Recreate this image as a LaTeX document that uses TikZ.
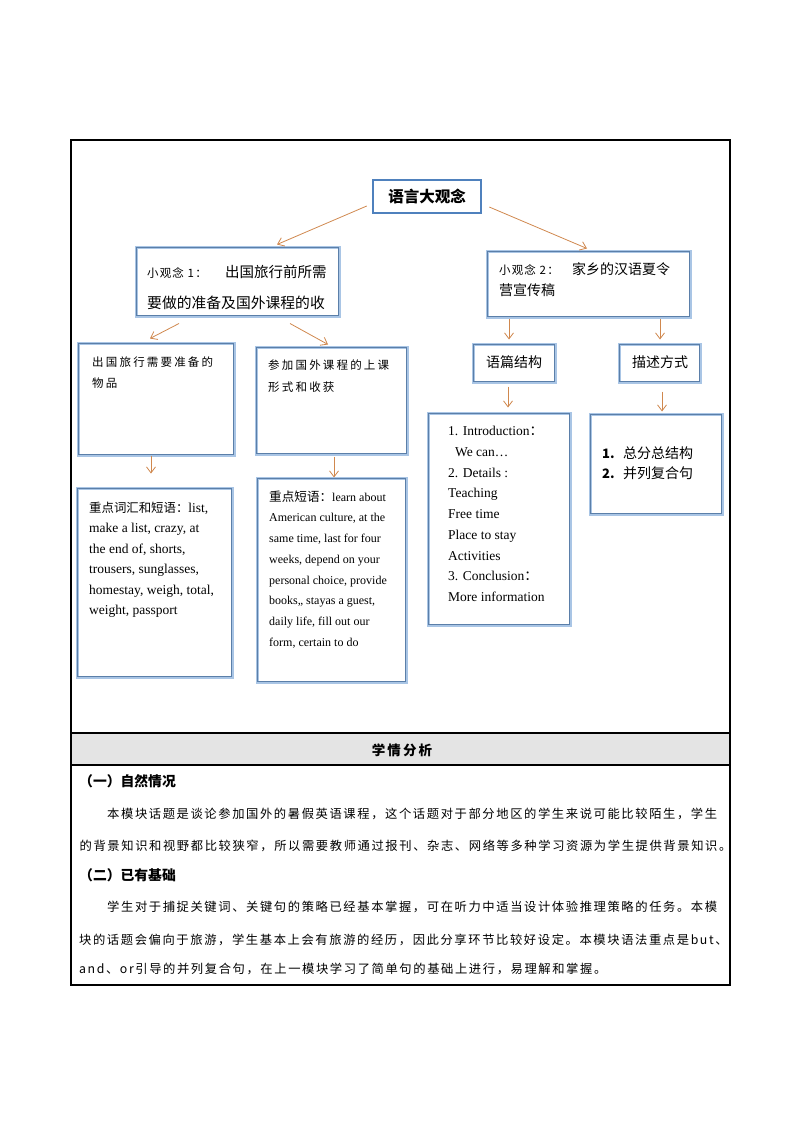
\documentclass[tikz,border=0pt]{standalone}
\usepackage{fontspec}
\setmainfont{Liberation Serif}
\newfontfamily\cjk{Noto Sans CJK SC}
\newfontfamily\cjksp[LetterSpace=13]{Noto Sans CJK SC}
\newfontfamily\cjklm[LetterSpace=19]{Noto Sans CJK SC}
\newfontfamily\cjkhd[LetterSpace=16]{Noto Sans CJK SC}
\newfontfamily\cjksm[LetterSpace=10]{Noto Sans CJK SC}
\usetikzlibrary{arrows.meta,fit}
\definecolor{lb}{HTML}{A9C5E5}
\definecolor{db}{HTML}{5B7FA9}
\definecolor{tb}{HTML}{4F81BD}
\definecolor{ar}{HTML}{D0884E}
\definecolor{hd}{HTML}{E4E4E4}
\newcommand\fs[1]{\fontsize{#1}{#1}\selectfont}
\newcommand\wbox[5]{%
  \node[wbx, fit={(#2,#3) (#4,#5)}] (#1) {};
  \draw[db, line width=0.7pt] ([shift={(2.2,2.2)}]#1.north west) rectangle ([shift={(-2.2,-2.2)}]#1.south east);}
\begin{document}
\begin{tikzpicture}[x=1pt,y=-1pt,
  txt/.style={anchor=base west, inner sep=0pt},
  wbx/.style={draw=lb, line width=3pt, inner sep=0pt},
  arr/.style={draw=ar, line width=0.8pt, -{Straight Barb[length=6pt,width=9pt]}}]
\useasboundingbox (0,0) rectangle (794,1123);

% outer frame and table
\node[draw, line width=1.2pt, inner sep=0pt, fit={(71,140) (730,985)}] (frame) {};
\fill[hd] (72,734) rectangle (729,764);
\draw[line width=1.2pt] (frame.west |- 0,733) coordinate (h1a) -- (frame.east |- 0,733) coordinate (h1b);
\draw[line width=1.2pt] (frame.west |- 0,765) coordinate (h2a) -- (frame.east |- 0,765) coordinate (h2b);

% top box
\node[draw=tb, line width=2.5pt, inner sep=0pt, minimum width=108pt, minimum height=33pt] (top) at (427,196.5) {};
\node[inner sep=0pt, font=\cjk\bfseries\fs{15.5}] (toptxt) at (427,196.5) {语言大观念};

% level-1 boxes
\wbox{b1}{136}{247}{339}{316}
\wbox{b2}{487}{251}{690}{317}
\node[txt, font=\cjksm\fs{11.5}] (b1a) at (147,277) {小观念 1：};
\node[txt, font=\cjk\fs{14.5}] (b1b) at (225,277) {出国旅行前所需};
\node[txt, font=\cjk\fs{14.8}] (b1c) at (147,308) {要做的准备及国外课程的收};
\node[txt, font=\cjksm\fs{11.5}] (b2a) at (499,274) {小观念 2：};
\node[txt, font=\cjk\fs{14}] (b2b) at (572,274) {家乡的汉语夏令};
\node[txt, font=\cjk\fs{14}] (b2c) at (499,295) {营宣传稿};

% level-2 boxes
\wbox{lm}{78}{343}{234}{455}
\wbox{mm}{256}{347}{407}{454}
\wbox{yp}{473}{344}{555}{382}
\wbox{ms}{619}{344}{700}{382}
\node[txt, font=\cjklm\fs{11.5}] (lm1) at (92,366) {出国旅行需要准备的};
\node[txt, font=\cjklm\fs{11.5}] (lm2) at (92,387) {物品};
\node[txt, font=\cjklm\fs{11.5}] (mm1) at (268,369) {参加国外课程的上课};
\node[txt, font=\cjklm\fs{11.5}] (mm2) at (268,391) {形式和收获};
\node[inner sep=0pt, font=\cjk\fs{14}] (yptxt) at (514,362) {语篇结构};
\node[inner sep=0pt, font=\cjk\fs{14}] (mstxt) at (660,362) {描述方式};

% level-3 boxes
\wbox{bl}{77}{488}{232}{677}
\wbox{bm}{257}{478}{406}{682}
\wbox{in}{428}{413}{570}{625}
\wbox{zf}{590}{414}{722}{514}

\foreach \t [count=\i] in {{{\cjk\fs{12.4}重点词汇和短语：}list,},
  {make a list, crazy, at}, {the end of, shorts,}, {trousers, sunglasses,},
  {homestay, weigh, total,}, {weight, passport}}
  \node[txt, font=\fs{13.5}] (bl\i) at (89,{512.5+(\i-1)*20.4}) {\t};

\foreach \t [count=\i] in {{{\cjk\fs{12.6}重点短语：}learn about},
  {American culture, at the}, {same time, last for four}, {weeks, depend on your},
  {personal choice, provide}, {books,, stayas a guest,}, {daily life, fill out our},
  {form, certain to do}}
  \node[txt, font=\fs{12}] (bm\i) at (269,{501+(\i-1)*20.75}) {\t};

\foreach \t/\xx [count=\i] in {{1. Introduction{\cjk：}}/448, {We can\ldots}/455,
  {2. Details :}/448, Teaching/448, Free time/448, Place to stay/448,
  Activities/448, {3. Conclusion{\cjk：}}/448, More information/448}
  \node[txt, font=\fs{13.5}] (in\i) at (\xx,{435.5+(\i-1)*20.75}) {\t};

\node[txt, font=\cjk\bfseries\fs{13}] (zf1n) at (602,458.5) {1.};
\node[txt, font=\cjk\fs{14}] (zf1) at (623,458.5) {总分总结构};
\node[txt, font=\cjk\bfseries\fs{13}] (zf2n) at (602,478.5) {2.};
\node[txt, font=\cjk\fs{14}] (zf2) at (623,478.5) {并列复合句};

% connectors
\draw[arr] ([shift={(-5,9.5)}]top.west) -- ([shift={(39.5,-1)}]b1.north);
\draw[arr] ([shift={(7,10.5)}]top.east) -- ([shift={(-1.5,-1)}]b2.north);
\draw[arr] ([shift={(-58.5,6)}]b1.south) -- ([shift={(-6,-3)}]lm.north);
\draw[arr] ([shift={(52.5,6)}]b1.south) -- ([shift={(-3.5,-1)}]mm.north);
\draw[arr] ([shift={(-79.5,0)}]b2.south) -- ([shift={(-5,-3)}]yp.north);
\draw[arr] ([shift={(71.5,0)}]b2.south) -- ([shift={(0.5,-3)}]ms.north);
\draw[arr] ([shift={(-5,-1)}]lm.south) -- ([shift={(-3.5,-13)}]bl.north);
\draw[arr] ([shift={(2.5,1)}]mm.south) -- ([shift={(2.5,1)}]bm.north);
\draw[arr] ([shift={(-6,3)}]yp.south) -- ([shift={(9,-4)}]in.north);
\draw[arr] ([shift={(2.5,8)}]ms.south) -- ([shift={(6,-1)}]zf.north);

% table text
\node[inner sep=0pt, font=\cjkhd\bfseries\fs{13.5}] (head) at (402,750) {学情分析};
\node[txt, font=\cjk\bfseries\fs{13.8}] (s1) at (79,786.5) {（一）自然情况};
\node[txt, font=\cjksp\fs{12.3}] (p1) at (107,818.5) {本模块话题是谈论参加国外的暑假英语课程，这个话题对于部分地区的学生来说可能比较陌生，学生};
\node[txt, font=\cjksp\fs{12.3}] (p2) at (79.5,850.5) {的背景知识和视野都比较狭窄，所以需要教师通过报刊、杂志、网络等多种学习资源为学生提供背景知识。};
\node[txt, font=\cjk\bfseries\fs{13.8}] (s2) at (79,880) {（二）已有基础};
\node[txt, font=\cjksp\fs{12.3}] (p3) at (107,911.5) {学生对于捕捉关键词、关键句的策略已经基本掌握，可在听力中适当设计体验推理策略的任务。本模};
\node[txt, font=\cjksp\fs{12.3}] (p4) at (79,944.5) {块的话题会偏向于旅游，学生基本上会有旅游的经历，因此分享环节比较好设定。本模块语法重点是but、};
\node[txt, font=\cjksp\fs{12.3}] (p5) at (79,973.5) {and、or引导的并列复合句，在上一模块学习了简单句的基础上进行，易理解和掌握。};
\end{tikzpicture}
\end{document}
